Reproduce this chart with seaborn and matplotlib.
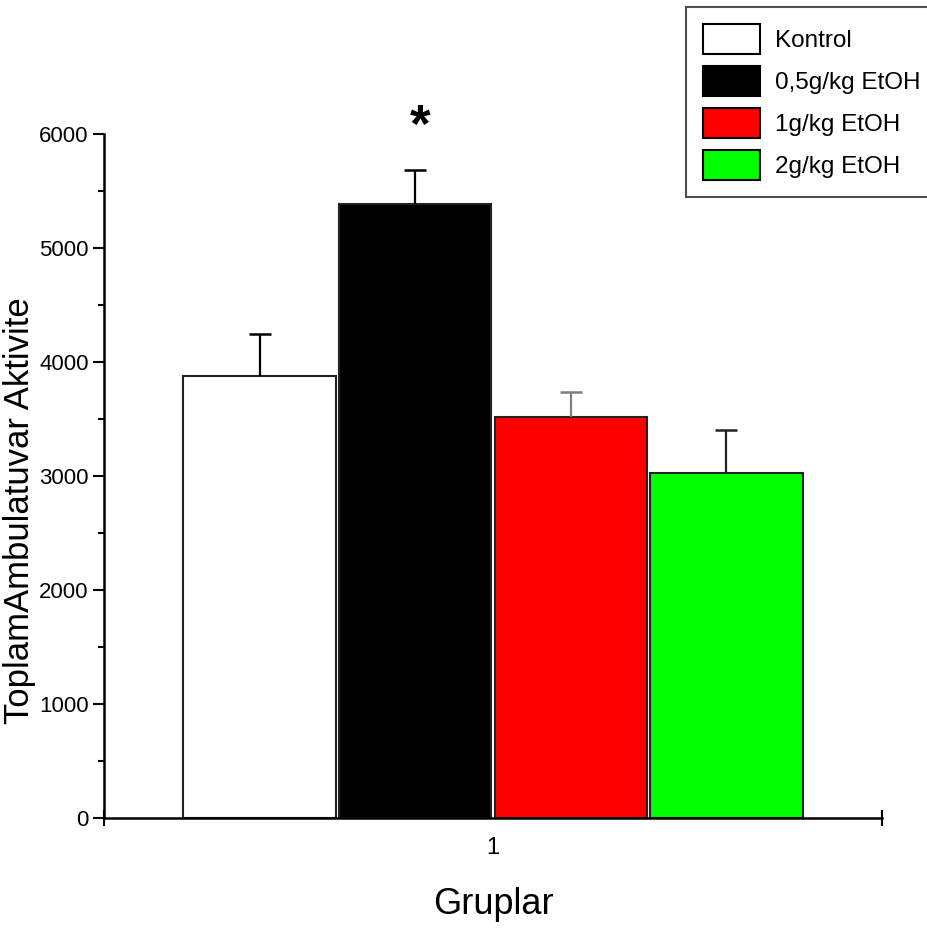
"""Toplam ambulatuvar aktivite - bar chart with SEM error bars."""

import matplotlib

matplotlib.use("Agg")
import matplotlib.pyplot as plt
from matplotlib.ticker import MultipleLocator, FixedLocator
import pandas as pd
import seaborn as sns

# data
GROUPS = ["Kontrol", "0,5g/kg EtOH", "1g/kg EtOH", "2g/kg EtOH"]
MEANS = [3880, 5385, 3520, 3025]
SEMS = [370, 300, 220, 380]
COLORS = ["#ffffff", "#000000", "#ff0000", "#00ff00"]
ERR_COLORS = ["#000000", "#000000", "#7f7f7f", "#222222"]
X_CATEGORY = ["1"]
STAR_GROUP = "0,5g/kg EtOH"

FONT = ["Liberation Sans", "DejaVu Sans"]


def main():
    sns.set_style("ticks")
    plt.rcParams["font.family"] = FONT
    plt.rcParams["text.color"] = "black"
    plt.rcParams["axes.labelcolor"] = "black"
    plt.rcParams["xtick.color"] = "black"
    plt.rcParams["ytick.color"] = "black"
    plt.rcParams["axes.edgecolor"] = "black"

    df = pd.DataFrame(
        {
            "grup": X_CATEGORY * len(GROUPS),
            "tedavi": GROUPS,
            "deger": MEANS,
        }
    )

    fig = plt.figure(figsize=(9.27, 9.34), dpi=100)
    ax = fig.add_axes([0.1122, 0.1242, 0.8393, 0.7323])

    sns.barplot(
        data=df,
        x="grup",
        y="deger",
        hue="tedavi",
        hue_order=GROUPS,
        palette=COLORS,
        saturation=1,
        width=0.8,
        gap=0.02,
        errorbar=None,
        edgecolor="#222222",
        linewidth=1.5,
        legend=False,
        ax=ax,
    )

    # upper-only error bars, centred on each bar
    bars = list(ax.patches)
    for i, (bar, mean, sem) in enumerate(zip(bars, MEANS, SEMS)):
        cx = bar.get_x() + bar.get_width() / 2
        _, caps, _ = ax.errorbar(
            cx, mean, yerr=[[0], [sem]], fmt="none", ecolor=ERR_COLORS[i],
            elinewidth=1.6, capsize=8, capthick=1.8, zorder=1,
        )
        caps[0].set_visible(False)  # no cap at the bar top
        if GROUPS[i] == STAR_GROUP:
            ax.text(cx + 0.006, mean + sem + 370, "*", ha="center", va="center",
                    fontsize=38, fontweight="bold", clip_on=False)

    ax.set_xlim(-0.5, 0.5)
    ax.set_ylim(0, 6000)

    ax.yaxis.set_major_locator(MultipleLocator(1000))
    ax.yaxis.set_minor_locator(MultipleLocator(500))
    ax.tick_params(axis="y", which="major", direction="out", length=8, width=1.5,
                   labelsize=16, pad=3)
    ax.tick_params(axis="y", which="minor", direction="out", length=4, width=1.5)
    ax.tick_params(axis="x", which="major", length=0, labelsize=17, pad=14)
    ax.xaxis.set_minor_locator(FixedLocator([-0.5, 0.5]))
    ax.tick_params(axis="x", which="minor", direction="inout", length=12, width=1.5)

    for side in ["top", "right"]:
        ax.spines[side].set_visible(False)
    ax.spines["left"].set_linewidth(1.8)
    ax.spines["bottom"].set_linewidth(1.8)

    ax.set_xlabel("Gruplar", fontsize=26, labelpad=20)
    ax.set_ylabel("ToplamAmbulatuvar Aktivite", fontsize=25)
    ax.yaxis.set_label_coords(-0.088, 0.45)

    leg = ax.legend(
        handles=bars[: len(GROUPS)],
        labels=GROUPS,
        loc="upper left",
        bbox_to_anchor=(0.74, 0.993),
        bbox_transform=fig.transFigure,
        fontsize=17.5,
        frameon=True,
        fancybox=False,
        edgecolor="#222222",
        handlelength=2.35,
        handleheight=1.52,
        labelspacing=0.5,
        handletextpad=0.6,
        borderpad=0.7,
        borderaxespad=0,
    )
    leg.get_frame().set_linewidth(1.5)
    for h in leg.legend_handles:
        h.set_edgecolor("black")

    fig.savefig("out.png", dpi=100)


if __name__ == "__main__":
    main()
